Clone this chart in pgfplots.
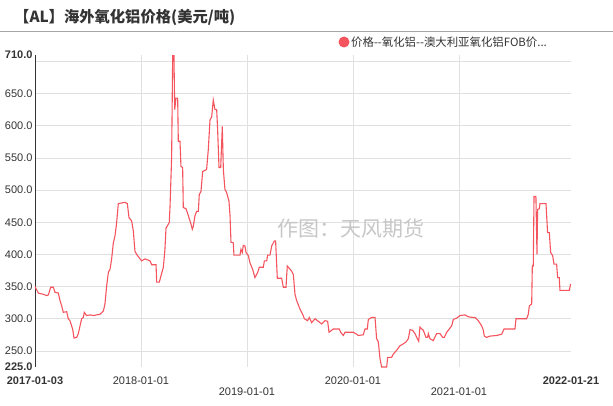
\documentclass[border=0pt]{standalone}
\usepackage{pgfplots}
\pgfplotsset{compat=1.18}
\usepackage{fontspec}
\setmainfont{Liberation Sans}
\newfontfamily\cjk{Noto Sans CJK SC}
\definecolor{linered}{RGB}{244,84,94}
\definecolor{txt}{RGB}{51,51,51}
\definecolor{gridc}{RGB}{224,224,224}
\newcommand{\low}[1]{\raisebox{-11pt}[\height][\depth]{#1}}

% t = years since 2017-01-03, price in USD/t
\pgfplotstableread{
t v
0.000 350
0.031 340
0.079 338
0.110 336
0.126 337
0.148 349
0.173 349
0.189 341
0.220 340
0.236 328
0.252 320
0.267 310
0.299 311
0.314 300
0.330 297
0.355 284
0.368 270
0.393 271
0.409 277
0.425 289
0.440 300
0.456 302
0.465 310
0.487 305
0.519 306
0.550 305
0.582 306
0.613 307
0.645 312
0.660 323
0.676 351
0.692 372
0.708 377
0.723 393
0.739 418
0.755 429
0.770 449
0.786 479
0.849 481
0.871 479
0.887 457
0.912 452
0.928 436
0.943 405
0.959 400
0.991 393
1.006 390
1.038 393
1.085 390
1.101 384
1.142 384
1.148 357
1.173 357
1.189 367
1.211 380
1.226 408
1.236 441
1.248 444
1.267 450
1.274 475
1.289 550
1.299 710
1.311 710
1.318 625
1.330 643
1.346 643
1.352 576
1.368 576
1.377 537
1.393 535
1.399 473
1.425 471
1.447 460
1.472 447
1.484 439
1.494 444
1.509 460
1.525 467
1.541 467
1.550 493
1.566 498
1.582 529
1.619 532
1.635 563
1.651 609
1.667 614
1.682 640
1.698 625
1.714 625
1.723 594
1.736 535
1.752 535
1.767 599
1.777 532
1.792 501
1.808 496
1.830 483
1.840 460
1.849 419
1.871 418
1.877 399
1.934 399
1.943 408
1.956 403
1.965 414
1.981 413
1.991 403
2.013 398
2.028 387
2.053 377
2.075 364
2.101 372
2.116 380
2.154 380
2.164 390
2.186 390
2.195 399
2.217 399
2.233 413
2.258 421
2.270 421
2.286 363
2.327 363
2.343 349
2.368 349
2.380 382
2.406 377
2.421 374
2.437 369
2.453 338
2.469 328
2.500 315
2.531 305
2.541 300
2.572 297
2.588 302
2.610 294
2.642 300
2.673 296
2.704 292
2.736 297
2.761 296
2.774 279
2.814 284
2.871 284
2.884 279
2.909 274
2.925 279
3.003 279
3.035 276
3.050 274
3.097 275
3.113 284
3.135 284
3.145 299
3.176 302
3.208 302
3.223 269
3.239 264
3.255 238
3.270 225
3.318 225
3.327 240
3.365 240
3.380 245
3.412 251
3.443 258
3.475 261
3.500 264
3.522 269
3.538 283
3.563 282
3.585 277
3.607 269
3.620 265
3.632 287
3.664 282
3.689 271
3.704 271
3.711 277
3.726 269
3.758 266
3.789 277
3.821 277
3.846 271
3.862 271
3.884 279
3.899 282
3.931 289
3.947 299
3.978 301
4.009 305
4.057 306
4.088 303
4.135 302
4.151 302
4.182 297
4.214 289
4.230 282
4.239 273
4.261 271
4.292 273
4.355 274
4.403 276
4.425 284
4.528 284
4.538 300
4.638 300
4.654 307
4.664 320
4.686 323
4.692 382
4.701 382
4.708 490
4.726 490
4.736 400
4.742 470
4.758 471
4.764 479
4.821 479
4.836 434
4.852 434
4.865 403
4.884 398
4.896 385
4.921 385
4.931 364
4.946 364
4.953 344
5.041 344
5.053 354
}\alumina

\begin{document}
\begin{tikzpicture}
\useasboundingbox (0pt,0pt) rectangle (613pt,405pt);
\node[anchor=west, text=txt, inner sep=0pt] at (14pt,388pt)
  {\fontsize{15.3pt}{18pt}\selectfont\cjk\bfseries 【AL】海外氧化铝价格(美元/吨)};
\draw[gray!70, line width=0.8pt] (0pt,374pt) -- (613pt,374pt);
\fill[linered] (344pt,363pt) circle (5.5pt);
\node[anchor=west, text=txt, inner sep=0pt] at (351pt,363pt)
  {\fontsize{11.4pt}{13pt}\selectfont\cjk 价格-{}-氧化铝-{}-澳大利亚氧化铝FOB价...};
\begin{axis}[
  at={(35pt,38pt)}, anchor=south west,
  scale only axis, width=536pt, height=312pt,
  xmin=0, xmax=5.057, ymin=225, ymax=710,
  axis y line*=left, axis x line*=bottom,
  x axis line style={draw=none},
  y axis line style={draw=txt, line width=0.9pt},
  major tick length=0pt,
  grid=major, grid style={gridc, line width=0.7pt},
  xtick={1,2,3,4},
  xticklabels={2018-01-01,\low{2019-01-01},2020-01-01,\low{2021-01-01}},
  extra x ticks={0,5.057},
  extra x tick labels={\textbf{2017-01-03},\textbf{2022-01-21}},
  extra x tick style={grid=none},
  ytick={250,300,...,700},
  yticklabels={250.0,300.0,350.0,400.0,450.0,500.0,550.0,600.0,650.0,{}},
  extra y ticks={225,710},
  extra y tick labels={\textbf{225.0},\textbf{710.0}},
  extra y tick style={grid=none},
  ticklabel style={font=\fontsize{11pt}{13pt}\selectfont, text=txt},
  xticklabel style={yshift=-6pt},
  yticklabel style={xshift=1pt},
  clip=true,
]
\node[text=black!22, inner sep=0pt] at (rel axis cs:0.59,0.445)
  {\fontsize{21pt}{24pt}\selectfont\cjk 作图：天风期货};
\addplot[linered, line width=1.1pt, sharp plot] table[x=t, y=v] {\alumina};
\end{axis}
\end{tikzpicture}
\end{document}
